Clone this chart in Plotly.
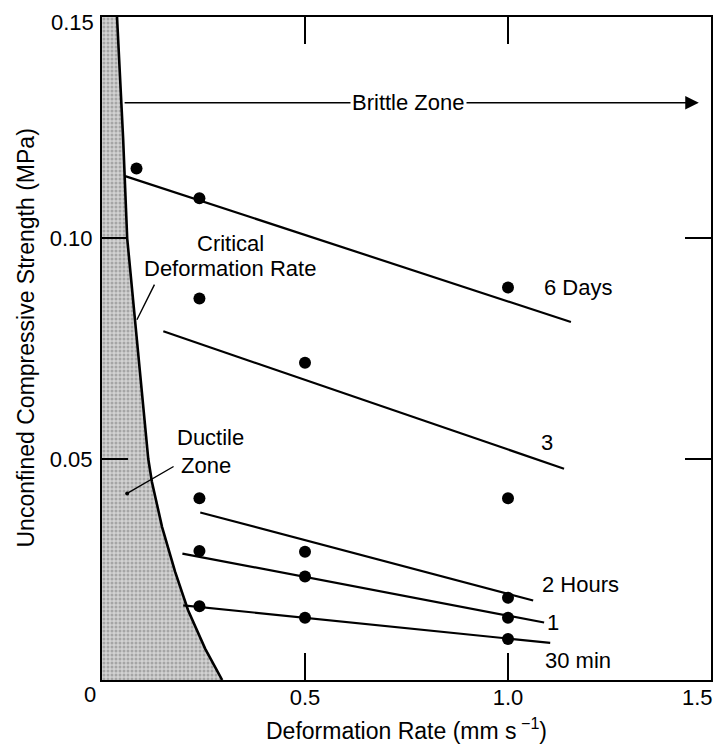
import plotly.graph_objects as go

# ---- data ----
curve_x = [0.037, 0.052, 0.062, 0.081, 0.099, 0.114, 0.123, 0.148, 0.180, 0.212, 0.254, 0.296]
curve_y = [0.150, 0.1226, 0.100, 0.0815, 0.0648, 0.050, 0.0448, 0.0346, 0.0245, 0.0158, 0.0071, 0.0]

series_names = ["6 Days", "3", "2 Hours", "1", "30 min"]
pts_x = [
    [0.085, 0.24, 1.0],
    [0.24, 0.5, 1.0],
    [0.24, 0.5, 1.0],
    [0.24, 0.5, 1.0],
    [0.24, 0.5, 1.0],
]
pts_y = [
    [0.1157, 0.1090, 0.0888],
    [0.0863, 0.0718, 0.0411],
    [0.0411, 0.0290, 0.0186],
    [0.0292, 0.0234, 0.0141],
    [0.0167, 0.0141, 0.0093],
]
fit_x = [
    [0.057, 1.155],
    [0.151, 1.138],
    [0.242, 1.062],
    [0.198, 1.089],
    [0.200, 1.104],
]
fit_y = [
    [0.1140, 0.0810],
    [0.0789, 0.0478],
    [0.0379, 0.0180],
    [0.0286, 0.0130],
    [0.0169, 0.0084],
]
label_x = [1.084, 1.096, 1.080, 1.110, 1.086]
label_y = [0.0887, 0.0537, 0.0216, 0.0130, 0.0043]
label_anchor = ["left", "center", "left", "center", "left"]

x_ticks = [0.5, 1.0, 1.5]
x_ticktext = ["0.5", "1.0", "1.5"]
y_ticks = [0.05, 0.10, 0.15]
y_ticktext = ["0.05", "0.10", "0.15"]

FONT = "Liberation Sans, Arial, Helvetica, sans-serif"
FS = 22

fig = go.Figure()

# ductile zone shading
fig.add_trace(go.Scatter(
    x=curve_x + [0, 0], y=curve_y + [0, 0.15],
    fill="toself", mode="lines", line=dict(width=0),
    fillcolor="#cccccc",
    fillpattern=dict(shape=".", fgcolor="#777777", bgcolor="#d2d2d2", size=4, solidity=0.45),
    hoverinfo="skip", showlegend=False,
))
# critical deformation rate curve
fig.add_trace(go.Scatter(
    x=curve_x, y=curve_y, mode="lines",
    line=dict(color="black", width=2.6), showlegend=False,
))

for i, name in enumerate(series_names):
    fig.add_trace(go.Scatter(
        x=fit_x[i], y=fit_y[i], mode="lines",
        line=dict(color="black", width=2.2), showlegend=False,
    ))
    fig.add_trace(go.Scatter(
        x=pts_x[i], y=pts_y[i], mode="markers",
        marker=dict(color="black", size=12), showlegend=False, name=name,
    ))
    fig.add_annotation(
        x=label_x[i], y=label_y[i], text=name, showarrow=False,
        xanchor=label_anchor[i], yanchor="middle",
        font=dict(family=FONT, size=FS, color="black"),
    )

# Brittle zone arrow
fig.add_annotation(
    x=1.47, y=0.1306, ax=0.052, ay=0.1306, xref="x", yref="y", axref="x", ayref="y",
    text="", showarrow=True, arrowhead=2, arrowsize=1.7, arrowwidth=1.6, arrowcolor="black",
)
fig.add_annotation(
    x=0.756, y=0.1306, text="Brittle Zone", showarrow=False, bgcolor="white",
    font=dict(family=FONT, size=FS, color="black"), borderpad=1,
)

# Critical deformation rate label and leader
fig.add_annotation(x=0.316, y=0.0988, text="Critical", showarrow=False, borderpad=0,
                   font=dict(family=FONT, size=FS, color="black"))
fig.add_annotation(x=0.316, y=0.0930, text="Deformation Rate", showarrow=False, borderpad=0,
                   font=dict(family=FONT, size=FS, color="black"))
fig.add_annotation(
    x=0.086, y=0.0815, ax=0.131, ay=0.0898, xref="x", yref="y", axref="x", ayref="y",
    text="", showarrow=True, arrowhead=0, arrowwidth=1.4, arrowcolor="black",
)

# Ductile zone label and leader
fig.add_annotation(x=0.266, y=0.0548, text="Ductile", showarrow=False, borderpad=0,
                   font=dict(family=FONT, size=FS, color="black"))
fig.add_annotation(x=0.256, y=0.0486, text="Zone", showarrow=False, borderpad=0,
                   font=dict(family=FONT, size=FS, color="black"))
fig.add_annotation(
    x=0.062, y=0.0422, ax=0.180, ay=0.0485, xref="x", yref="y", axref="x", ayref="y",
    text="", showarrow=True, arrowhead=0, arrowwidth=1.4, arrowcolor="black",
)
fig.add_trace(go.Scatter(x=[0.062], y=[0.0422], mode="markers",
                         marker=dict(color="black", size=4), showlegend=False))

# corner tick labels, kept inside the page
fig.add_annotation(
    x=0, y=0, xref="x", yref="y", text="0", showarrow=False,
    xanchor="right", yanchor="top", xshift=-4, yshift=0,
    font=dict(family=FONT, size=FS, color="black"),
)
fig.add_annotation(
    x=x_ticks[-1], y=0, xref="x", yref="y", text=x_ticktext[-1], showarrow=False,
    xanchor="right", yanchor="top", xshift=3, yshift=-4, borderpad=0,
    font=dict(family=FONT, size=FS, color="black"),
)
fig.add_annotation(
    x=0, y=y_ticks[-1], xref="x", yref="y", text=y_ticktext[-1], showarrow=False,
    xanchor="right", yanchor="middle", xshift=-6, yshift=-5,
    font=dict(family=FONT, size=FS, color="black"),
)

# axis titles as annotations (placed relative to the plot area)
fig.add_annotation(
    x=0.5, y=0, xref="paper", yref="paper", yanchor="middle", yshift=-49,
    text="Deformation Rate (mm s<sup> −1</sup>)", showarrow=False,
    font=dict(family=FONT, size=23, color="black"),
)
fig.add_annotation(
    x=0, y=0.5, xref="paper", yref="paper", xanchor="center", yanchor="middle",
    xshift=-77, yshift=10, textangle=-90,
    text="Unconfined Compressive Strength (MPa)", showarrow=False,
    font=dict(family=FONT, size=23, color="black"),
)

# page body has an 8px default margin, so the figure is offset accordingly
fig.update_layout(
    width=715, height=739,
    margin=dict(l=94, r=12, t=9, b=67),
    plot_bgcolor="white", paper_bgcolor="white",
    font=dict(family=FONT, size=FS, color="black"),
    showlegend=False,
)
fig.update_xaxes(
    range=[0, 1.5], tickvals=x_ticks, ticktext=x_ticktext[:-1] + [""], automargin=False,
    showgrid=False, zeroline=False, showline=True, linecolor="black", linewidth=2.2,
    mirror="ticks", ticks="inside", ticklen=27, tickwidth=1.6, tickcolor="black",
    tickfont=dict(family=FONT, size=FS), ticklabelstandoff=-4,
)
fig.update_yaxes(
    range=[0, 0.15], tickvals=y_ticks, ticktext=y_ticktext[:-1] + [""], automargin=False,
    showgrid=False, zeroline=False, showline=True, linecolor="black", linewidth=2.2,
    mirror="ticks", ticks="inside", ticklen=26, tickwidth=1.6, tickcolor="black",
    tickfont=dict(family=FONT, size=FS), ticklabelstandoff=3,
)

fig.write_html("out.html")
